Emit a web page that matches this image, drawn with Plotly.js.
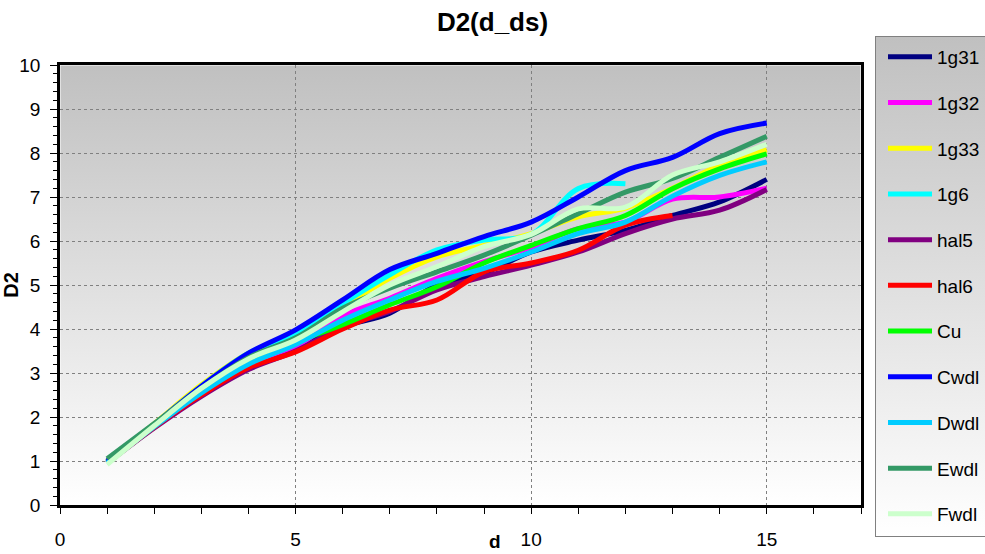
<!DOCTYPE html>
<html>
<head>
<meta charset="utf-8">
<script src="https://cdn.plot.ly/plotly-3.0.1.min.js"></script>
<style>html,body{margin:0;padding:0;background:#fff;}</style>
</head>
<body>
<div id="chart" style="width:985px;height:554px;"></div>
<script>
// ---- data ----
const dValues = [1, 2, 3, 4, 5, 6, 7, 8, 9, 10, 11, 12, 13, 14, 15];
const seriesNames = ["1g31", "1g32", "1g33", "1g6", "hal5", "hal6", "Cu", "Cwdl", "Dwdl", "Ewdl", "Fwdl"];
const s1g31 = [1.00, 1.80, 2.55, 3.20, 3.60, 4.05, 4.36, 5.00, 5.27, 5.75, 6.02, 6.24, 6.58, 6.89, 7.40];
const s1g32 = [0.98, 1.80, 2.55, 3.20, 3.60, 4.30, 4.70, 5.15, 5.53, 5.86, 6.28, 6.43, 6.95, 7.00, 7.20];
const s1g33 = [0.98, 1.85, 2.73, 3.45, 3.85, 4.50, 5.15, 5.64, 5.90, 6.17, 6.55, 6.75, 7.20, 7.72, 8.07];
const s1g6  = [0.98, 1.83, 2.70, 3.45, 3.90, 4.58, 5.23, 5.80, 6.02, 6.15, 7.19, 7.30];
const sHal5 = [0.95, 1.75, 2.47, 3.08, 3.50, 4.05, 4.40, 4.89, 5.19, 5.45, 5.75, 6.17, 6.50, 6.70, 7.17];
const sHal6 = [0.95, 1.77, 2.50, 3.12, 3.48, 4.00, 4.43, 4.66, 5.30, 5.50, 5.79, 6.36, 6.58];
const sCu   = [0.98, 1.80, 2.60, 3.28, 3.70, 4.10, 4.55, 4.96, 5.50, 5.90, 6.28, 6.58, 7.19, 7.64, 7.98];
const sCwdl = [0.98, 1.83, 2.70, 3.45, 3.98, 4.66, 5.35, 5.72, 6.10, 6.43, 7.00, 7.60, 7.90, 8.44, 8.68];
const sDwdl = [0.95, 1.78, 2.55, 3.20, 3.65, 4.20, 4.66, 5.08, 5.38, 5.75, 6.17, 6.43, 7.02, 7.49, 7.80];
const sEwdl = [1.05, 1.85, 2.65, 3.35, 3.80, 4.47, 4.93, 5.30, 5.68, 6.13, 6.62, 7.11, 7.42, 7.90, 8.38];
const sFwdl = [0.92, 1.80, 2.65, 3.32, 3.75, 4.39, 5.00, 5.42, 5.87, 6.15, 6.73, 6.77, 7.50, 7.80, 8.20];
const xTickValues = [0, 5, 10, 15];
const yTickValues = [0, 1, 2, 3, 4, 5, 6, 7, 8, 9, 10];

// ---- styles ----
const seriesValues = [s1g31, s1g32, s1g33, s1g6, sHal5, sHal6, sCu, sCwdl, sDwdl, sEwdl, sFwdl];
const seriesColors = ["#000080", "#FF00FF", "#FFFF00", "#00FFFF", "#800080", "#FF0000",
                      "#00FF00", "#0000FF", "#00CCFF", "#339966", "#CCFFCC"];
const FONT = "Liberation Sans, Arial, Helvetica, sans-serif";

const traces = seriesNames.map((name, i) => ({
  type: "scatter",
  mode: "lines",
  name: name,
  legendgroup: name,
  x: dValues.slice(0, seriesValues[i].length),
  y: seriesValues[i],
  line: { color: seriesColors[i], width: 5, shape: "spline", smoothing: 1 },
  hoverinfo: "x+y+name"
}));

function gradSvg(w, h, stroke) {
  const s = '<svg xmlns="http://www.w3.org/2000/svg" width="' + w + '" height="' + h + '" viewBox="0 0 ' + w + ' ' + h + '" preserveAspectRatio="none">' +
    '<defs><linearGradient id="g" x1="0" y1="0" x2="0" y2="1">' +
    '<stop offset="0" stop-color="#c0c0c0"/><stop offset="1" stop-color="#ffffff"/></linearGradient></defs>' +
    '<rect x="0.5" y="0.5" width="' + (w - 1) + '" height="' + (h - 1) + '" fill="url(#g)"' +
    (stroke ? ' stroke="' + stroke + '" stroke-width="1"' : '') + '/></svg>';
  return "data:image/svg+xml;charset=utf-8," + encodeURIComponent(s);
}

const L = 60, R = 861, T = 65, B = 505;
const PW = R - L, PH = B - T;

const layout = {
  width: 985,
  height: 554,
  margin: { l: L, r: 985 - R, t: T, b: 554 - B, pad: 0, autoexpand: false },
  paper_bgcolor: "#ffffff",
  plot_bgcolor: "rgba(0,0,0,0)",
  font: { family: FONT, size: 19, color: "#000000" },
  showlegend: true,
  title: {
    text: "D2(d_ds)",
    font: { family: FONT, size: 26, weight: "bold", color: "#000000" },
    x: 0.5, xref: "container", xanchor: "center",
    y: 1 - 22 / 554, yref: "container", yanchor: "middle"
  },
  xaxis: {
    range: [0, 17],
    tickmode: "array",
    tickvals: xTickValues,
    ticks: "outside", ticklen: 6, tickwidth: 1, tickcolor: "#000000",
    ticklabelstandoff: 9,
    tickfont: { family: FONT, size: 19, color: "#000000" },
    showline: true, linewidth: 2.5, linecolor: "#000000", mirror: true,
    showgrid: true, gridcolor: "#808080", gridwidth: 1, griddash: "dot",
    zeroline: false,
    minor: { dtick: 1, tick0: 0, ticks: "outside", ticklen: 6, tickwidth: 1, tickcolor: "#000000", showgrid: false },
    fixedrange: true
  },
  yaxis: {
    range: [0, 10],
    tickmode: "array",
    tickvals: yTickValues,
    ticks: "outside", ticklen: 7, tickwidth: 1, tickcolor: "#000000",
    ticklabelstandoff: 6,
    tickfont: { family: FONT, size: 19, color: "#000000" },
    showline: true, linewidth: 2.5, linecolor: "#000000", mirror: true,
    showgrid: true, gridcolor: "#808080", gridwidth: 1, griddash: "dot",
    zeroline: false,
    minor: { dtick: 0.2, tick0: 0, ticks: "outside", ticklen: 4, tickwidth: 1, tickcolor: "#000000", showgrid: false },
    title: { text: "D2", font: { family: FONT, size: 20, weight: "bold", color: "#000000" }, standoff: 2 },
    fixedrange: true
  },
  legend: {
    x: (883 - L) / PW, xanchor: "left",
    y: (B - 38) / PH, yanchor: "top",
    maxheight: 554,
    bgcolor: "rgba(0,0,0,0)",
    borderwidth: 0,
    font: { family: FONT, size: 19, color: "#000000" },
    itemwidth: 44,
    traceorder: "grouped",
    tracegroupgap: 18
  },
  annotations: [{
    text: "d", showarrow: false,
    xref: "paper", yref: "paper",
    x: (495 - L) / PW, y: (B - 541) / PH,
    xanchor: "center", yanchor: "middle",
    font: { family: FONT, size: 19, weight: "bold", color: "#000000" }
  }],
  images: [
    { source: gradSvg(PW, PH, null), xref: "paper", yref: "paper",
      x: 0, y: 1, sizex: 1, sizey: 1, xanchor: "left", yanchor: "top",
      sizing: "stretch", layer: "below" },
    { source: gradSvg(130, 501, "#808080"), xref: "paper", yref: "paper",
      x: (875 - L) / PW, y: (B - 36) / PH, sizex: 130 / PW, sizey: 501 / PH,
      xanchor: "left", yanchor: "top", sizing: "stretch", layer: "below" }
  ]
};

Plotly.newPlot("chart", traces, layout, { displayModeBar: false, staticPlot: false, responsive: false });
</script>
</body>
</html>
